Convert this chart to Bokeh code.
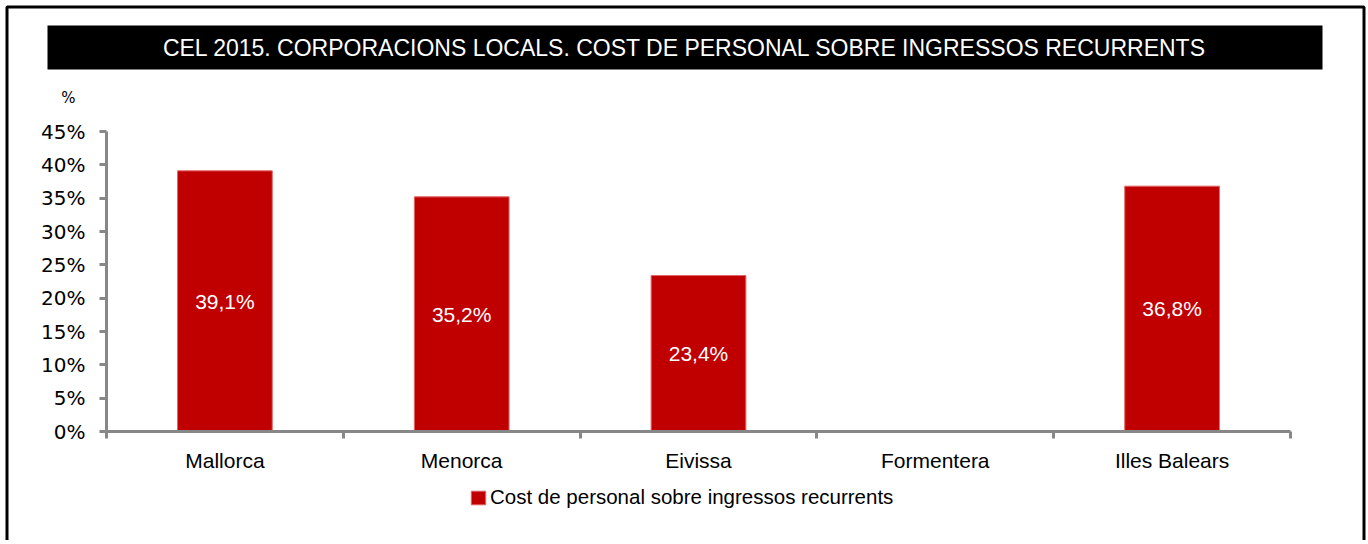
from bokeh.plotting import figure
from bokeh.models import (Range1d, FixedTicker, LinearAxis, PrintfTickFormatter,
                          BoxAnnotation, Label, Legend, LegendItem, ColumnDataSource)
from bokeh.core.properties import value
from bokeh.embed import file_html
from bokeh.resources import INLINE

# ---- data ----
title_text = "CEL 2015. CORPORACIONS LOCALS. COST DE PERSONAL SOBRE INGRESSOS RECURRENTS"
categories = ["Mallorca", "Menorca", "Eivissa", "Formentera", "Illes Balears"]
values = [39.1, 35.2, 23.4, None, 36.8]
value_labels = ["39,1%", "35,2%", "23,4%", "", "36,8%"]
y_ticks = [0, 5, 10, 15, 20, 25, 30, 35, 40, 45]
y_max = 45
series_name = "Cost de personal sobre ingressos recurrents"
y_unit = "%"

# ---- layout (canvas pixels) ----
W, H = 1366, 540
PLOT_L, PLOT_R, PLOT_T, PLOT_B = 106, 1290, 131, 431
n = len(categories)
ppx = (PLOT_R - PLOT_L) / n          # pixels per category
ppy = (PLOT_B - PLOT_T) / y_max      # pixels per percent

NARROW = "Liberation Sans"
RED = "#C00000"
GREY = "#878787"

p = figure(width=W, height=H, output_backend="svg", toolbar_location=None,
           x_range=Range1d(-PLOT_L / ppx, (W - PLOT_L) / ppx),
           y_range=Range1d(-(H - PLOT_B) / ppy, PLOT_B / ppy),
           x_axis_location=None, y_axis_location=None,
           min_border=0, min_border_left=0, min_border_right=0,
           min_border_top=0, min_border_bottom=0)
p.outline_line_color = None
p.grid.visible = False
p.background_fill_color = "white"
p.border_fill_color = "white"

centers = [i + 0.5 for i in range(n)]
present = [i for i, v in enumerate(values) if v is not None]
src = ColumnDataSource(dict(
    x=[centers[i] for i in present],
    top=[values[i] for i in present],
    mid=[values[i] / 2 for i in present],
    lab=[value_labels[i] for i in present],
))
bars = p.vbar(x="x", top="top", width=0.4, source=src, fill_color=RED,
              line_color="#E06666", line_width=1)
p.text(x="x", y="mid", text="lab", source=src, text_color="white",
       text_font=value(NARROW), text_font_size="21px",
       text_align="center", text_baseline="middle")

# y axis
yaxis = LinearAxis(fixed_location=0, bounds=(0, y_max),
                   ticker=FixedTicker(ticks=y_ticks),
                   formatter=PrintfTickFormatter(format="%d%%"))
yaxis.axis_line_color = GREY
yaxis.axis_line_width = 3
yaxis.major_tick_line_color = GREY
yaxis.major_tick_line_width = 3
yaxis.major_tick_out = 7
yaxis.major_tick_in = 0
yaxis.minor_tick_line_color = None
yaxis.major_label_standoff = 14
yaxis.major_label_text_font = "DejaVu Sans"
yaxis.major_label_text_font_size = "20px"
yaxis.major_label_text_color = "black"
p.add_layout(yaxis, "left")

# x axis (ticks at category boundaries, labels at centres)
xaxis = LinearAxis(fixed_location=0, bounds=(0, n),
                   ticker=FixedTicker(ticks=centers, minor_ticks=list(range(n + 1))))
xaxis.major_label_overrides = {c: name for c, name in zip(centers, categories)}
xaxis.axis_line_color = GREY
xaxis.axis_line_width = 3
xaxis.major_tick_line_color = None
xaxis.major_tick_out = 7
xaxis.minor_tick_line_color = GREY
xaxis.minor_tick_line_width = 3
xaxis.minor_tick_out = 7
xaxis.minor_tick_in = 0
xaxis.major_label_standoff = 10
xaxis.major_label_text_font = NARROW
xaxis.major_label_text_font_size = "21px"
xaxis.major_label_text_color = "black"
p.add_layout(xaxis, "below")

def box(l, r, t, b, **kw):
    return BoxAnnotation(left=l, right=r, top=H - t, bottom=H - b,
                         left_units="screen", right_units="screen",
                         top_units="screen", bottom_units="screen", **kw)

# outer border (open at the bottom, as in the reference crop)
p.add_layout(box(6.5, 1363.5, 6.5, H + 20, fill_color=None, fill_alpha=0,
                 line_color="black", line_alpha=1, line_width=3))
# title bar
p.add_layout(box(47, 1322, 25, 69, fill_color="black", fill_alpha=1,
                 line_color=None))
p.add_layout(Label(x=684.5, y=H - 47, x_units="screen", y_units="screen",
                   text=title_text, text_color="white", text_font=NARROW,
                   text_font_size="23px", text_align="center", text_baseline="middle"))
p.add_layout(Label(x=68, y=H - 97, x_units="screen", y_units="screen",
                   text=y_unit, text_color="black", text_font="DejaVu Sans",
                   text_font_size="15px", text_align="center", text_baseline="middle"))

legend = Legend(items=[LegendItem(label=series_name, renderers=[bars])],
                location=(469, H - 509), orientation="horizontal",
                padding=0, margin=0, border_line_color=None,
                background_fill_alpha=0, glyph_width=18, glyph_height=17,
                label_height=17, label_standoff=3, label_text_font=NARROW,
                label_text_font_size="20.5px", label_text_color="black")
p.add_layout(legend, "center")

open("out.html", "w").write(file_html(p, INLINE))
